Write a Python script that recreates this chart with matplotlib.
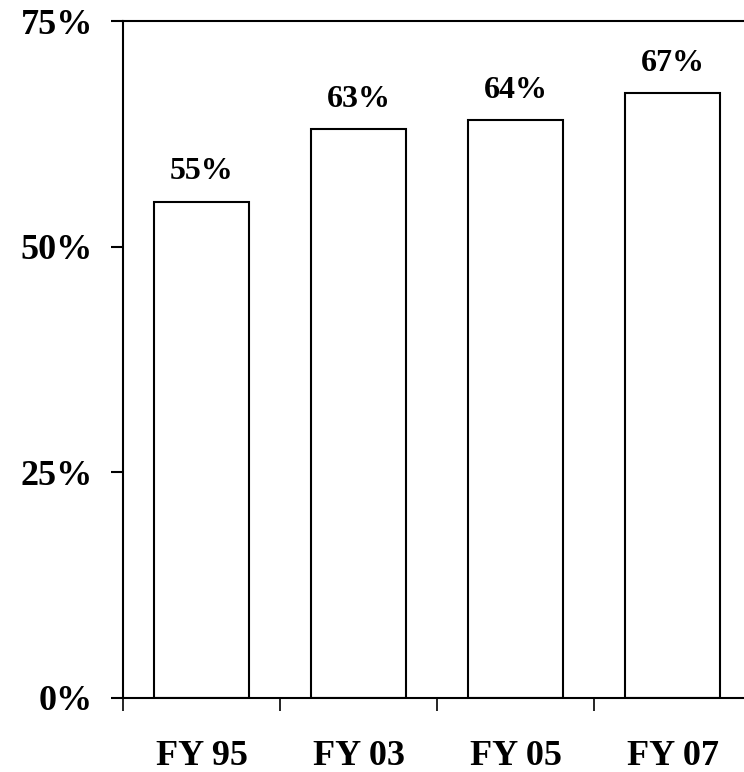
import matplotlib.pyplot as plt
import numpy as np

# 各财年占比
years = ['FY 95', 'FY 03', 'FY 05', 'FY 07']
share = [55, 63, 64, 67]
yticks = [0, 25, 50, 75]

plt.rcParams['font.family'] = ['Liberation Serif', 'DejaVu Serif']
plt.rcParams['font.weight'] = 'bold'

fig = plt.figure(figsize=(7.44, 7.72), dpi=100)
ax = fig.add_axes([123/744, 1 - 698/772, 628/744, 677/772])

x = np.arange(len(years)) + 0.5
ax.bar(x, share, width=0.6, color='white', edgecolor='black', linewidth=1.5)

# 柱顶数值
for xi, v in zip(x, share):
    ax.text(xi, v + 1.7, f'{v}%', ha='center', va='bottom', fontsize=23, fontweight='bold')

ax.set_xlim(0, len(years))
ax.set_ylim(0, 75)

# 主刻度放在分类边界，标签放在次刻度（分类中心）
ax.set_xticks(np.arange(len(years) + 1))
ax.set_xticklabels([])
ax.set_xticks(x, minor=True)
ax.set_xticklabels(years, minor=True, fontsize=26, fontweight='bold')
ax.tick_params(axis='x', which='major', direction='out', length=9.5, width=1.2)
ax.tick_params(axis='x', which='minor', length=0, pad=30)

ax.set_yticks(yticks)
ax.set_yticklabels([f'{t}%' for t in yticks], fontsize=26, fontweight='bold')
ax.tick_params(axis='y', direction='out', length=8.5, width=1.5, pad=13)

for s in ['left', 'top', 'bottom']:
    ax.spines[s].set_linewidth(1.5)
ax.spines['right'].set_visible(False)

fig.savefig('out.png', dpi=100)
